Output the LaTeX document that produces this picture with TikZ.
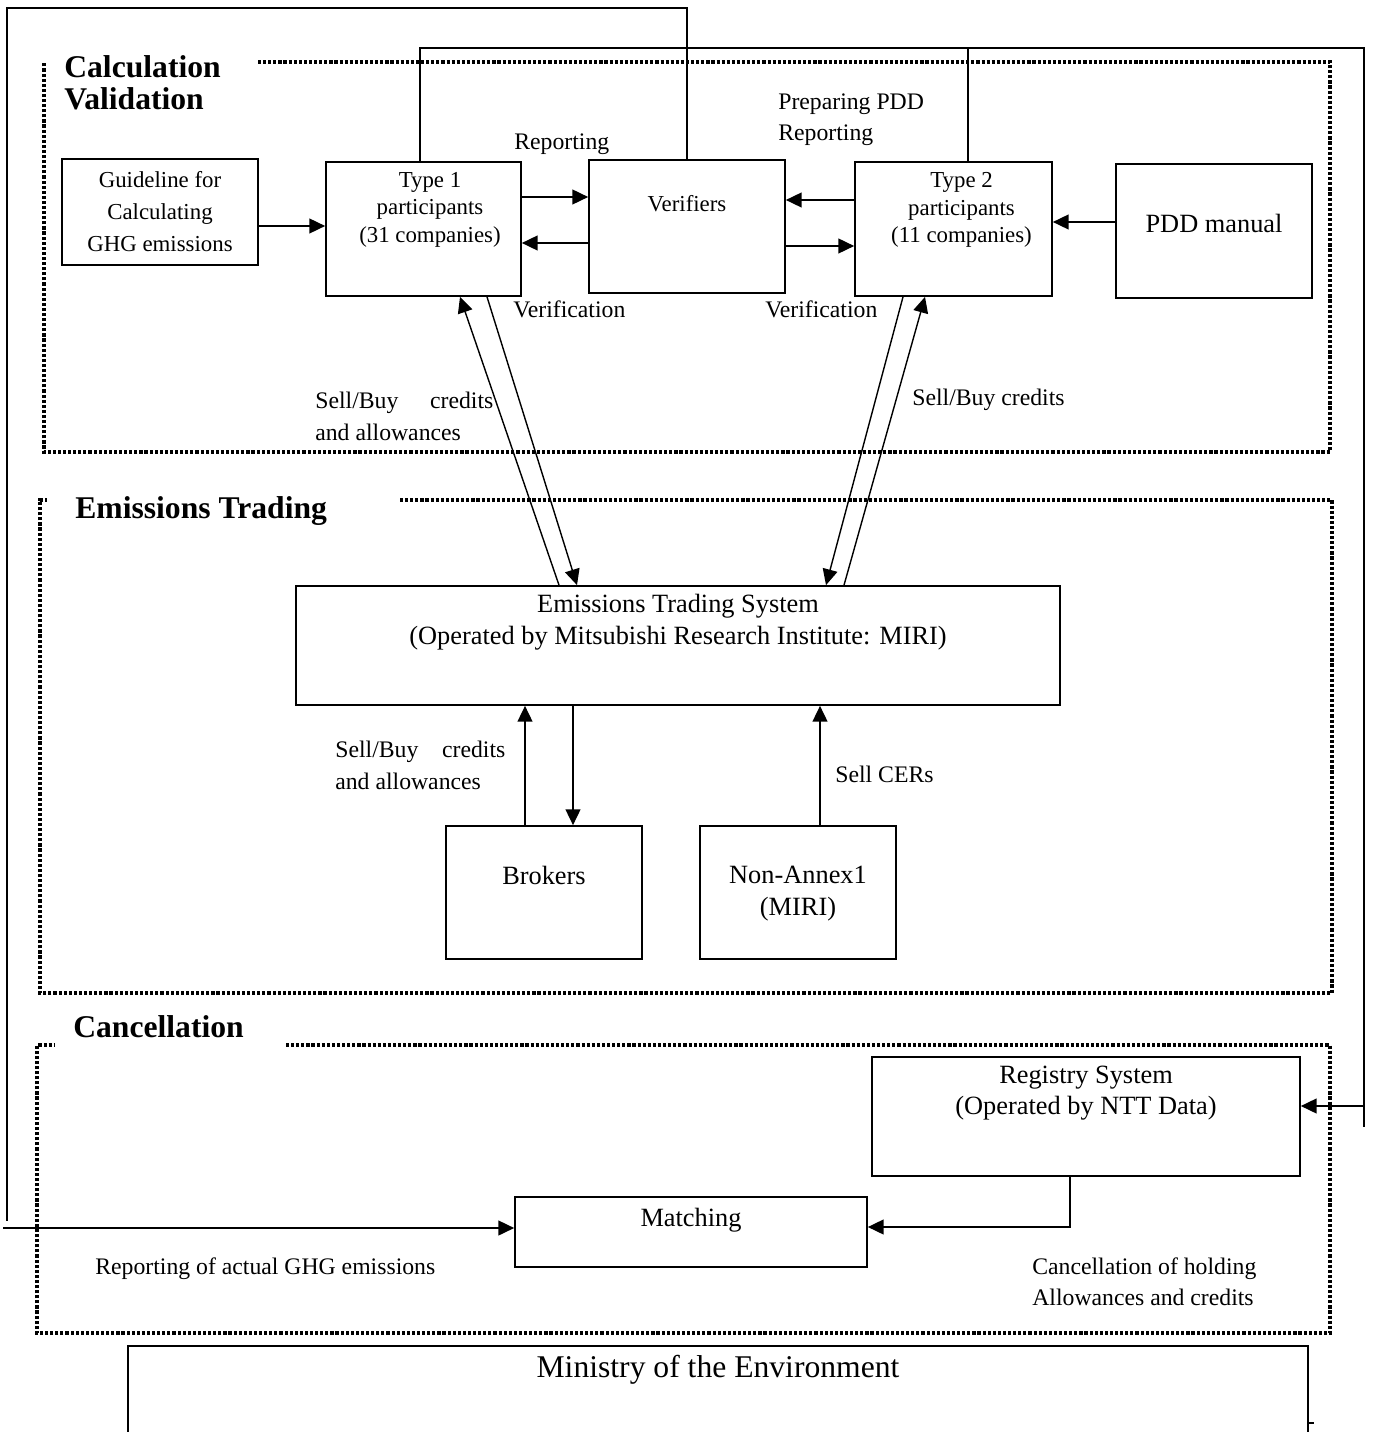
\documentclass[tikz,border=0pt]{standalone}
\usepackage{fontspec}
\setmainfont{Liberation Serif}
\usetikzlibrary{arrows.meta,positioning}

\tikzset{
  blk/.style={draw, line width=1pt, inner sep=0pt},
  txt/.style={inner sep=0pt, align=center},
  lbl/.style={inner sep=0pt, align=left, anchor=north west, font=\fontsize{13.5}{18}\selectfont},
  heading/.style={inner sep=0pt, align=left, anchor=north west, font=\fontsize{18}{18.2}\selectfont\bfseries},
  zone/.style={line width=2pt, dash pattern=on 1.8pt off 1.1pt},
  wire/.style={line width=0.8pt},
  arr/.style={line width=0.8pt, -{Triangle[length=9pt, width=8.5pt]}},
}

\begin{document}
\begin{tikzpicture}[x=0.02cm, y=-0.02cm]
  \useasboundingbox (0,0) rectangle (1374,1432);
  \clip (0,0) rectangle (1374,1432);

  % dotted zones
  \draw[zone] (258,62) -- (1330,62) -- (1330,452) -- (44,452) -- (44,62);
  \draw[zone] (400,500) -- (1332,500) -- (1332,993) -- (40,993) -- (40,500) -- (47,500);
  \draw[zone] (286,1045) -- (1330,1045) -- (1330,1333) -- (37,1333) -- (37,1045) -- (54,1045);

  \node[heading] at (64,55) {Calculation\\Validation};
  \node[heading] at (75,496) {Emissions Trading};
  \node[heading] at (73,1015) {Cancellation};

  % boxes, top zone
  \node[blk, minimum width=3.92cm, minimum height=2.12cm, align=center, font=\fontsize{13}{18.2}\selectfont] (guide) at (160,212) {Guideline for\\Calculating\\GHG emissions};
  \node[blk, minimum width=3.9cm, minimum height=2.68cm] (t1) at (423.5,229) {};
  \node[txt, below=0.22cm of t1.north, xshift=0.13cm, font=\fontsize{13}{15.6}\selectfont] {Type 1\\participants\\(31 companies)};
  \node[blk, minimum width=3.92cm, minimum height=2.66cm] (ver) at (687,226.5) {};
  \node[txt, below=0.72cm of ver.north, font=\fontsize{13}{15.6}\selectfont] {Verifiers};
  \node[blk, minimum width=3.94cm, minimum height=2.68cm] (t2) at (953.5,229) {};
  \node[txt, below=0.22cm of t2.north, xshift=0.16cm, font=\fontsize{13}{15.6}\selectfont] {Type 2\\participants\\(11 companies)};
  \node[blk, minimum width=3.92cm, minimum height=2.68cm] (pdd) at (1214,231) {};
  \node[txt, below=1.02cm of pdd.north, font=\fontsize{15}{18.2}\selectfont] {PDD manual};

  % boxes, trading zone
  \node[blk, minimum width=15.28cm, minimum height=2.38cm] (ets) at (678,645.5) {};
  \node[txt, below=0.18cm of ets.north, font=\fontsize{15}{18.2}\selectfont] {Emissions Trading System\\(Operated by Mitsubishi Research Institute: MIRI)};
  \node[blk, minimum width=3.92cm, minimum height=2.66cm] (brk) at (544,892.5) {};
  \node[txt, below=0.82cm of brk.north, font=\fontsize{15}{18.2}\selectfont] {Brokers};
  \node[blk, minimum width=3.92cm, minimum height=2.66cm] (nona) at (798,892.5) {};
  \node[txt, below=0.82cm of nona.north, font=\fontsize{15}{18.2}\selectfont] {Non-Annex1\\(MIRI)};

  % boxes, cancellation zone
  \node[blk, minimum width=8.56cm, minimum height=2.38cm] (reg) at (1086,1116.5) {};
  \node[txt, below=0.2cm of reg.north, font=\fontsize{15}{17.6}\selectfont] {Registry System\\(Operated by NTT Data)};
  \node[blk, minimum width=7.04cm, minimum height=1.4cm] (mat) at (691,1232) {};
  \node[txt, below=0.24cm of mat.north, font=\fontsize{15}{17.6}\selectfont] {Matching};
  \node[blk, minimum width=23.6cm, minimum height=4cm] (min) at (718,1446) {};
  \node[txt, below=0.2cm of min.north, font=\fontsize{18}{18.2}\selectfont] {Ministry of the Environment};

  % connectors
  \draw[arr] (guide.east |- 0,226) -- (t1.west |- 0,226);
  \draw[arr] (t1.east |- 0,197) -- (ver.west |- 0,197);
  \draw[arr] (ver.west |- 0,243) -- (t1.east |- 0,243);
  \draw[arr] (t2.west |- 0,200) -- (ver.east |- 0,200);
  \draw[arr] (ver.east |- 0,246) -- (t2.west |- 0,246);
  \draw[arr] (pdd.west |- 0,222) -- (t2.east |- 0,222);

  \draw[arr] (ets.north -| 559,0) -- (t1.south -| 460,0);
  \draw[arr] (t1.south -| 487,0) -- (ets.north -| 577,0);
  \draw[arr] (t2.south -| 903,0) -- (ets.north -| 826,0);
  \draw[arr] (ets.north -| 844,0) -- (t2.south -| 925,0);

  \draw[arr] (brk.north -| 525,0) -- (ets.south -| 525,0);
  \draw[arr] (ets.south -| 573,0) -- (brk.north -| 573,0);
  \draw[arr] (nona.north -| 820,0) -- (ets.south -| 820,0);
  \draw[arr] (reg.south -| 1070,0) |- (mat.east |- 0,1227);

  % long report lines
  \coordinate (rptin) at (3,1228);
  \coordinate (regin) at (1364,1106);
  \draw[wire] (ver.north) |- (7,8) -- (7,1221);
  \draw[arr] (rptin) -- (mat.west |- rptin);
  \draw[wire] (t1.north -| 420,0) |- (1364,48) -- (1364,1127);
  \draw[wire] (t2.north -| 968,0) -- (968,48);
  \draw[arr] (regin) -- (reg.east |- regin);
  \draw[wire] (min.east |- 0,1423) -- ++(5,0);

  % labels
  \node[lbl] at (514,133) {Reporting};
  \node[lbl] at (778,93) {Preparing PDD\\Reporting};
  \node[lbl] at (513,300) {Verification};
  \node[lbl] at (765,300) {Verification};
  \node[lbl] at (315,392) {\makebox[3.56cm][s]{Sell/Buy credits}\\and allowances};
  \node[lbl] at (912,389) {Sell/Buy credits};
  \node[lbl] at (335,741) {\makebox[3.4cm][s]{Sell/Buy credits}\\and allowances};
  \node[lbl] at (835,766) {Sell CERs};
  \node[lbl] at (95,1257) {Reporting of actual GHG emissions};
  \node[lbl] at (1032,1257) {Cancellation of holding\\Allowances and credits};
\end{tikzpicture}
\end{document}
